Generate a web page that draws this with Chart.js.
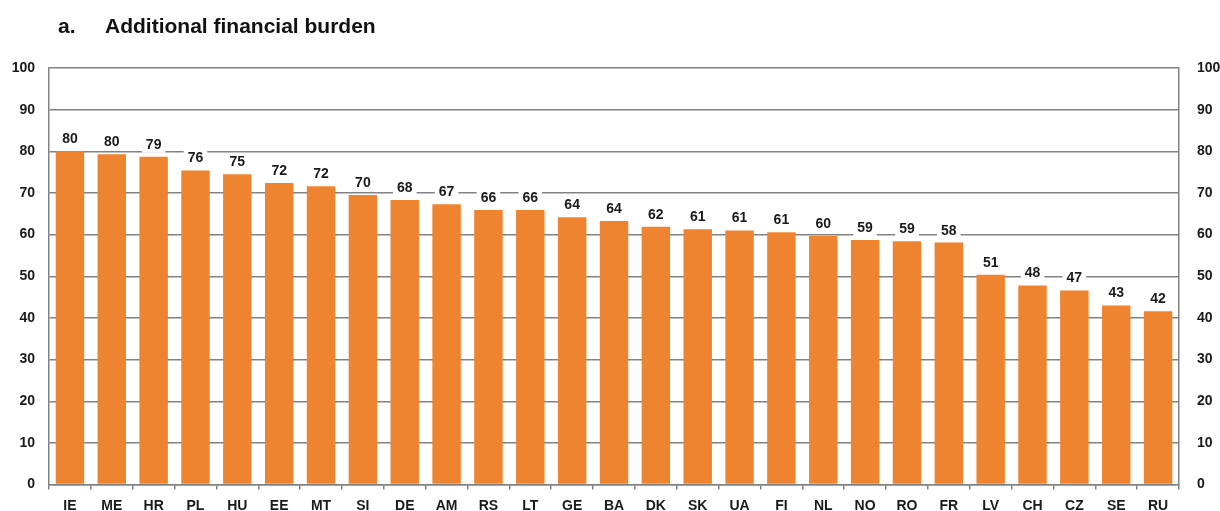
<!DOCTYPE html>
<html>
<head>
<meta charset="utf-8">
<script src="https://cdn.jsdelivr.net/npm/chart.js@4.4.1/dist/chart.umd.min.js"></script>
<style>
  html, body { margin: 0; padding: 0; background: #ffffff; }
  #wrap { width: 1220px; height: 511px; position: relative; }
</style>
</head>
<body>
<div id="wrap"><canvas id="c" width="1220" height="511"></canvas></div>
<script>
const titleLetter = 'a.';
const titleText = 'Additional financial burden';
const categories = ['IE','ME','HR','PL','HU','EE','MT','SI','DE','AM','RS','LT','GE','BA','DK','SK','UA','FI','NL','NO','RO','FR','LV','CH','CZ','SE','RU'];
const values = [80.0,79.3,78.7,75.4,74.5,72.4,71.6,69.5,68.3,67.3,65.9,65.9,64.2,63.3,61.9,61.3,61.0,60.6,59.7,58.7,58.4,58.1,50.4,47.8,46.6,43.0,41.6];
const valueLabels = [80,80,79,76,75,72,72,70,68,67,66,66,64,64,62,61,61,61,60,59,59,58,51,48,47,43,42];
const yMin = 0, yMax = 100, yStep = 10;

const FONT = "'Liberation Sans', Arial, sans-serif";
const GRID = '#828282';
const BAR = '#EF8430';

const titlePlugin = {
  id: 'titleText',
  afterDraw(chart) {
    const ctx = chart.ctx;
    ctx.save();
    ctx.fillStyle = '#111';
    ctx.font = 'bold 21px ' + FONT;
    ctx.textBaseline = 'alphabetic';
    ctx.textAlign = 'left';
    ctx.fillText(titleLetter, 58, 33);
    ctx.fillText(titleText, 105, 33);
    ctx.restore();
  }
};

const labelPlugin = {
  id: 'barLabels',
  afterDatasetsDraw(chart) {
    const ctx = chart.ctx;
    const meta = chart.getDatasetMeta(0);
    ctx.save();
    ctx.font = 'bold 14px ' + FONT;
    ctx.textAlign = 'center';
    ctx.textBaseline = 'alphabetic';
    meta.data.forEach((bar, i) => {
      const txt = String(valueLabels[i]);
      const w = ctx.measureText(txt).width;
      const base = bar.y - 8;
      ctx.fillStyle = '#ffffff';
      ctx.fillRect(bar.x - w / 2 - 4, base - 13, w + 8, 17);
      ctx.fillStyle = '#1a1a1a';
      ctx.fillText(txt, bar.x, base);
    });
    ctx.restore();
  }
};

new Chart(document.getElementById('c'), {
  type: 'bar',
  data: {
    labels: categories,
    datasets: [{
      data: values,
      backgroundColor: BAR,
      borderWidth: 0,
      barPercentage: 0.68,
      categoryPercentage: 1.0,
      yAxisID: 'y'
    }]
  },
  options: {
    responsive: false,
    animation: false,
    devicePixelRatio: 1,
    layout: { padding: { top: 68, left: 0, right: 0, bottom: 0 } },
    plugins: { legend: { display: false }, title: { display: false }, tooltip: { enabled: false } },
    scales: {
      x: {
        grid: { display: true, drawOnChartArea: false, drawTicks: true, tickLength: 5, color: GRID, lineWidth: 1.5, offset: true },
        border: { display: true, color: GRID, width: 1.5 },
        ticks: { color: '#1a1a1a', font: { family: FONT, size: 14, weight: 'bold' }, padding: 8, maxRotation: 0, autoSkip: false },
        afterFit(scale) { scale.height = 26; }
      },
      y: {
        position: 'left',
        min: yMin, max: yMax,
        grid: { color: GRID, lineWidth: 1.5, drawTicks: false },
        border: { display: true, color: GRID, width: 1.5 },
        ticks: { stepSize: yStep, color: '#1a1a1a', font: { family: FONT, size: 14, weight: 'bold' }, padding: 14 },
        afterFit(scale) { scale.width = 49; }
      },
      y2: {
        position: 'right',
        min: yMin, max: yMax,
        grid: { drawOnChartArea: false, drawTicks: false },
        border: { display: true, color: GRID, width: 1.5 },
        ticks: { stepSize: yStep, color: '#1a1a1a', font: { family: FONT, size: 14, weight: 'bold' }, padding: 18 },
        afterFit(scale) { scale.width = 41; }
      }
    }
  },
  plugins: [titlePlugin, labelPlugin]
});
</script>
</body>
</html>
